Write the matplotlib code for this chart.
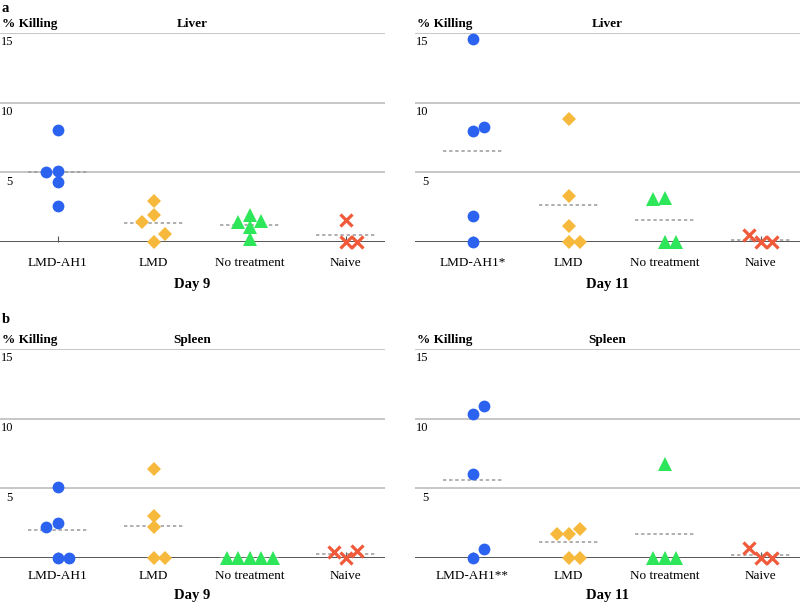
import numpy as np
import matplotlib
matplotlib.use('Agg')
import matplotlib.pyplot as plt
from matplotlib import transforms

plt.rcParams['font.family'] = ['Liberation Serif', 'DejaVu Serif']

groups = ['LMD-AH1', 'LMD', 'No treatment', 'Naive']
groups_d11_liver = ['LMD-AH1*', 'LMD', 'No treatment', 'Naive']
groups_d11_spleen = ['LMD-AH1**', 'LMD', 'No treatment', 'Naive']

# % killing per mouse, one list per group (order = order of placement in the swarm)
liver_day9 = [[8.07, 5.1, 5.0, 4.3, 2.6],
              [2.93, 1.93, 0, 0.57, 1.45],
              [0.23, 1.1, 1.93, 1.5, 1.45],
              [1.57, 0, 0]]
liver_day11 = [[14.6, 8.0, 8.25, 1.85, 0],
               [8.83, 3.32, 1.17, 0, 0],
               [3.15, 3.1, 0, 0],
               [0, 0, 0.5]]
spleen_day9 = [[5.12, 2.52, 2.24, 0, 0],
               [6.37, 3.03, 2.24, 0, 0],
               [0, 0, 0, 0, 0],
               [0, 0.48, 0.43]]
spleen_day11 = [[10.32, 10.89, 6.06, 0, 0.67],
                [1.75, 2.1, 1.75, 0, 0],
                [6.77, 0, 0, 0],
                [0, 0, 0.72]]

markers = ['o', 'D', '^', 'x']
colors = ['#2b63f0', '#f6b93b', '#2ee65a', '#f05a3a']
sizes = [8.5, 7.5, 9.5, 8]

W, H = 800, 606
AX_W, AX_H = 385, 209


def swarm_offsets(ax, x0, values, diam=10.5, step=0.12):
	placed = []
	offsets = []
	for v in values:
		def collides(o):
			p = ax.transData.transform((x0 + o*step, v))
			return [q for q in placed if np.hypot(*(p - q[0])) < diam]
		hits = collides(0)
		if not hits:
			o = 0
		else:
			centre = ax.transData.transform((x0, v))
			nearest = min(hits, key=lambda q: abs(q[0][1] - centre[1]))
			d = 1 if v >= nearest[1] else -1
			o = None
			k = 1
			while o is None:
				for cand in (d*k, -d*k):
					if not collides(cand):
						o = cand
						break
				k += 1
		placed.append((ax.transData.transform((x0 + o*step, v)), v))
		offsets.append(o*step)
	return offsets


def draw_panel(fig, left, top, data, labels, organ, day, label_pad, day_gap):
	ax = fig.add_axes([left/W, (H-top-AX_H)/H, AX_W/W, AX_H/H])
	ax.set_xlim(-0.6, 3.41)
	ax.set_ylim(0, 15)
	for s in ax.spines.values():
		s.set_visible(False)
	for g in (5, 10, 15):
		ax.axhline(g, color='#bdbdbd', lw=1.2, zorder=1)
	ax.axhline(0, color='#555555', lw=1.4, zorder=1)
	ax.set_yticks([])
	ax.set_xticks(range(len(labels)))
	ax.set_xticklabels(labels, fontsize=9.5)
	ax.tick_params(axis='x', direction='in', length=4, width=0.8, color='#555555', pad=label_pad)

	trans = transforms.blended_transform_factory(ax.transAxes, ax.transData)
	for g in (5, 10, 15):
		ax.text(13/AX_W, g-0.25, str(g), transform=trans, ha='right', va='top', fontsize=9)

	for i, vals in enumerate(data):
		m = np.mean(vals)
		ax.plot([i-0.31, i+0.31], [m, m], color='#9a9a9a', lw=1.1, dashes=(2.2, 1.8), zorder=2)
		offs = swarm_offsets(ax, i, vals)
		xs = [i + o for o in offs]
		if markers[i] == 'x':
			ax.plot(xs, vals, ls='none', marker='x', ms=sizes[i], mew=2.3, color=colors[i], zorder=3, clip_on=False)
		else:
			ax.plot(xs, vals, ls='none', marker=markers[i], ms=sizes[i], mew=0, color=colors[i], zorder=3, clip_on=False)

	ax.text(2/AX_W, 1+9/AX_H, '% Killing', transform=ax.transAxes, ha='left', va='center', fontsize=9.5, fontweight='bold')
	ax.text(0.5, 1+9/AX_H, organ, transform=ax.transAxes, ha='center', va='center', fontsize=9.5, fontweight='bold')
	ax.text(0.5, -day_gap/AX_H, day, transform=ax.transAxes, ha='center', va='center', fontsize=10.5, fontweight='bold')
	return ax


fig = plt.figure(figsize=(W/100, H/100), dpi=100)
draw_panel(fig, 0, 33, liver_day9, groups, 'Liver', 'Day 9', 11, 43)
draw_panel(fig, 415, 33, liver_day11, groups_d11_liver, 'Liver', 'Day 11', 11, 43)
draw_panel(fig, 0, 349, spleen_day9, groups, 'Spleen', 'Day 9', 8.5, 38)
draw_panel(fig, 415, 349, spleen_day11, groups_d11_spleen, 'Spleen', 'Day 11', 8.5, 38)
fig.text(2/W, 1-8/H, 'a', ha='left', va='center', fontsize=10.5, fontweight='bold')
fig.text(2/W, 1-320/H, 'b', ha='left', va='center', fontsize=10.5, fontweight='bold')

fig.savefig('out.png', dpi=100)
